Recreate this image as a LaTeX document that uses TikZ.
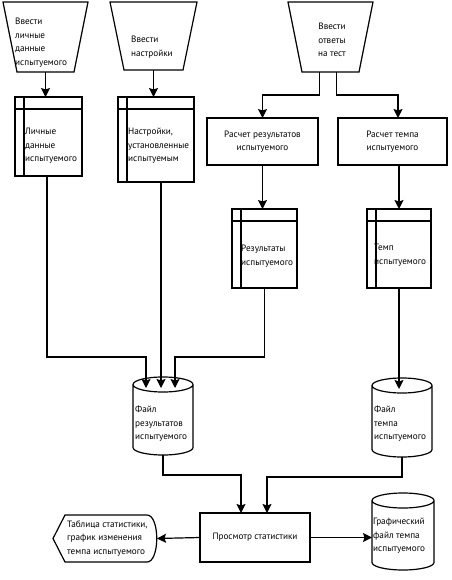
\documentclass[tikz,border=0pt]{standalone}
\usepackage{fontspec}
\setmainfont{PT Sans}
\usetikzlibrary{arrows.meta,calc}
\begin{document}
\begin{tikzpicture}[x=1pt,y=-1pt,
  every node/.style={font=\fontsize{9.2}{13.5}\selectfont},
  shp/.style={rectangle,inner sep=0pt,outer sep=0pt},
  boxd/.style={shp,draw,line width=1.2pt},
  txt/.style={inner sep=0pt,align=left,anchor=west},
  ln/.style={line width=1.2pt},
  arr/.style={line width=1.2pt,-{Stealth[length=9pt,width=9pt,inset=1.5pt]}}]
\useasboundingbox (0,0) rectangle (451,580);

% trapezoids (inputs)
\node[shp,minimum width=85pt,minimum height=70pt] (t1) at (45.5,37) {};
\node[shp,minimum width=87pt,minimum height=68pt] (t2) at (153.5,36) {};
\node[shp,minimum width=85pt,minimum height=70pt] (t3) at (330.5,37) {};
\foreach \n in {t1,t2,t3}{
  \draw[ln] (\n.north west) -- (\n.north east) -- ([xshift=-14pt]\n.south east)
    -- ([xshift=14pt]\n.south west) -- cycle;}
\node[txt] (t1l) at (15,42.5) {Ввести\\личные\\данные\\испытуемого};
\node[txt] (t2l) at (131,47) {Ввести\\настройки};
\node[inner sep=0pt,align=center] (t3l) at (332,40) {Ввести\\ответы\\на тест};

% stores with header
\node[boxd,minimum width=67pt,minimum height=79pt] (b1) at (48.5,136.5) {};
\node[boxd,minimum width=76pt,minimum height=85pt] (b2) at (156,139.5) {};
\node[boxd,minimum width=65pt,minimum height=79pt] (res) at (264.5,248.5) {};
\node[boxd,minimum width=64pt,minimum height=79pt] (tp) at (399,248.5) {};
\foreach \n in {b1,b2,res,tp}{
  \draw[ln] ([yshift=-12pt]\n.north west) -- ([yshift=-12pt]\n.north east);
  \draw[ln] ([xshift=9pt]\n.north west) -- ([xshift=9pt]\n.south west);}
\node[txt] (b1l) at (25,146) {Личные\\данные\\испытуемого};
\node[txt] (b2l) at (128,146) {Настройки,\\установленные\\испытуемым};
\node[txt] (resl) at (241,256) {Результаты\\испытуемого};
\node[txt] (tpl) at (374,255) {Темп\\испытуемого};

% processes
\node[boxd,minimum width=111pt,minimum height=47pt,align=center] (r1) at (262.5,141.5) {Расчет результатов\\испытуемого};
\node[boxd,minimum width=109pt,minimum height=47pt,align=center] (r2) at (392.5,141.5) {Расчет темпа\\испытуемого};
\node[boxd,minimum width=110pt,minimum height=49pt] (pv) at (255,537.5) {Просмотр статистики};

% cylinders
\node[shp,minimum width=60pt,minimum height=78pt] (c1) at (163,416) {};
\node[shp,minimum width=60pt,minimum height=79pt] (c2) at (402,417.5) {};
\node[shp,minimum width=62pt,minimum height=77pt] (c3) at (403,531.5) {};
\foreach \n/\rr in {c1/30,c2/30,c3/31}{
  \draw[ln] ([yshift=-7.5pt]\n.north west) -- ([yshift=7.5pt]\n.south west)
    arc[start angle=180,end angle=360,x radius=\rr pt,y radius=7.5pt]
    -- ([yshift=-7.5pt]\n.north east)
    arc[start angle=0,end angle=180,x radius=\rr pt,y radius=7.5pt]
    arc[start angle=180,end angle=360,x radius=\rr pt,y radius=7.5pt];}
\node[txt] (c1l) at (135,424) {Файл\\результатов\\испытуемого};
\node[txt] (c2l) at (374,424) {Файл\\темпа\\испытуемого};
\node[txt] (c3l) at (373,536) {Графический\\файл темпа\\испытуемого};

% display shape
\node[shp,minimum width=104pt,minimum height=47pt] (hx) at (105,538.5) {};
\draw[ln] (hx.west) -- ([xshift=12pt]hx.north west) -- ([xshift=-10pt]hx.north east)
  .. controls ([xshift=3pt]hx.north east) and ([xshift=3pt]hx.south east) .. ([xshift=-10pt]hx.south east)
  -- ([xshift=12pt]hx.south west) -- cycle;
\node[txt] (hxl) at (67,538.5) {Таблица статистики,\\график изменения\\темпа испытуемого};

% connectors
\draw[arr] (t1.south) -- (t1.south |- b1.north);
\draw[arr] (t2.south) -- (t2.south |- b2.north);
\draw[arr] ([xshift=-11pt]t3.south) |- ([yshift=23pt]r1.north) -- (r1.north);
\coordinate (r2in) at ([xshift=5.5pt]r2.north);
\draw[arr] ([xshift=6pt]t3.south) |- ([yshift=23pt]r2in) -- (r2in);
\draw[arr] (r1.south) -- (r1.south |- res.north);
\draw[arr] (tp.north |- r2.south) -- (tp.north);

\coordinate (c1a) at ([xshift=-17pt,yshift=-11pt]c1.north);
\coordinate (c1b) at ([xshift=-2pt,yshift=-11pt]c1.north);
\coordinate (c1c) at ([xshift=12pt,yshift=-11pt]c1.north);
\draw[arr] ([xshift=-1.5pt]b1.south) |- ([yshift=31pt]c1a) -- (c1a);
\draw[arr] (b2.south -| c1b) -- (c1b);
\draw[arr] (res.south) |- ([yshift=31pt]c1c) -- (c1c);
\coordinate (c2a) at ([yshift=-11pt]c2.north -| tp.south);
\draw[arr] (tp.south) -- (c2a);

\draw[arr] (c1.south) |- ([xshift=-14pt,yshift=38pt]pv.north) -- ([xshift=-14pt]pv.north);
\draw[arr] (c2.south) |- ([xshift=12pt,yshift=36pt]pv.north) -- ([xshift=12pt]pv.north);
\draw[arr] (pv.west) -- (hx.east);
\draw[arr] (pv.east) -- (pv.east -| c3.west);
\end{tikzpicture}
\end{document}
